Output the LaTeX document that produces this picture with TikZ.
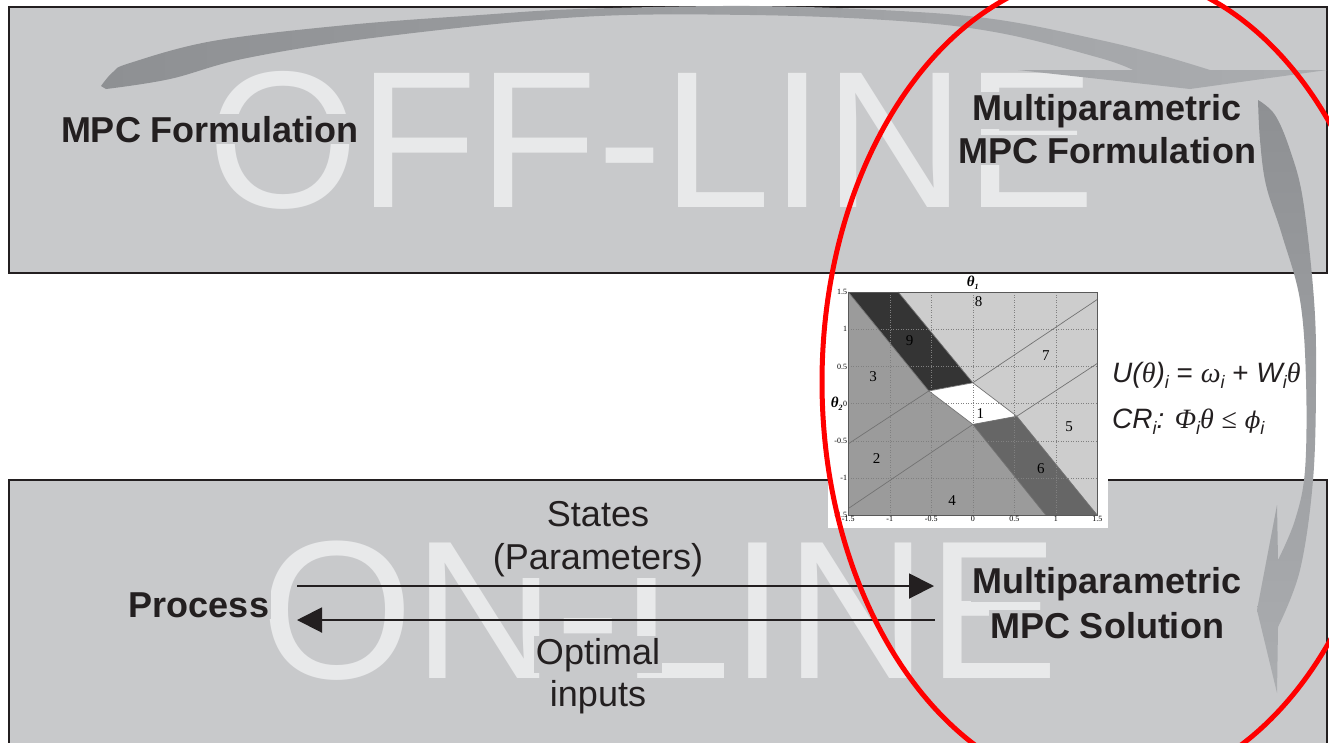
\documentclass[tikz,border=0pt]{standalone}
\usepackage{fontspec}
\setmainfont{Liberation Sans}
\newfontfamily\serifgr{Liberation Serif}
\newfontfamily\dvsgr{DejaVu Serif}
\usetikzlibrary{arrows.meta}

\definecolor{panel}{RGB}{200,201,203}
\definecolor{ink}{HTML}{231F20}
\definecolor{ghost}{HTML}{E8E9EA}
\definecolor{swA}{HTML}{8E9093}
\definecolor{swB}{HTML}{ABADB0}
\definecolor{rgLight}{HTML}{CDCDCD}
\definecolor{rgMid}{HTML}{9B9B9B}
\definecolor{rgDim}{HTML}{666666}
\definecolor{rgDark}{HTML}{343434}

% small italic subscript used in the formulas
\newcommand\eqsub[1]{\raisebox{-6pt}{\fontsize{18}{18}\selectfont\itshape #1}}
\newcommand\grk{\serifgr\itshape}

\tikzset{
  panelbox/.style={fill=panel, draw=ink, line width=2.5pt},
  ghostword/.style={text=ghost, inner sep=0pt, anchor=base west,
    font=\fontsize{197}{197}\selectfont},
  boldtxt/.style={text=ink, fill=panel, inner sep=1.5pt, anchor=base,
    font=\fontsize{36}{36}\selectfont\bfseries},
  plaintxt/.style={text=ink, fill=panel, inner sep=1.5pt, anchor=base,
    font=\fontsize{36}{36}\selectfont},
  flow/.style={draw=ink, line width=2pt, -{Triangle[length=25pt,width=25pt]}},
  ring/.style={draw=red, line width=5pt},
  gridline/.style={dotted, draw=gray, line width=0.5pt},
  bound/.style={draw=black!55, line width=0.7pt},
  tick/.style={font=\fontsize{8}{8}\selectfont\serifgr, inner sep=1pt},
  regnum/.style={font=\fontsize{15}{15}\selectfont\serifgr, inner sep=0pt},
  axisname/.style={font=\fontsize{15}{15}\selectfont\serifgr\bfseries\itshape, inner sep=0pt},
  eqtxt/.style={text=ink, inner sep=0pt, anchor=base west,
    font=\fontsize{28}{28}\selectfont},
}

\begin{document}
\begin{tikzpicture}[x=1pt, y=-1pt]
\useasboundingbox (0,0) rectangle (1329,742);
\clip (0,0) rectangle (1329,742);
\fill[white] (0,0) rectangle (1329,742);

% the two panels
\draw[panelbox] (9,7) rectangle (1327,273);
\draw[panelbox] (9,480) rectangle (1327,770);

% large background words
\node[ghostword] (offline) at (207,207) {\fontsize{195}{195}\selectfont OFF-LINE};
\node[ghostword] (online) at (260,678) {ON-LINE};

% swoosh from the MPC formulation to the multiparametric formulation
\shade[left color=swA, right color=swB]
  plot[smooth, tension=0.6] coordinates {(101,86) (113,72) (130,63) (213,41) (347,25) (480,15) (580,9) (750,6) (900,11) (1000,20) (1100,40) (1160,55) (1210,70)}
  -- (1327,70) -- (1190,89) -- (1018,70) -- (1133,70)
  -- plot[smooth, tension=0.6] coordinates {(1133,70) (1100,58) (1000,33) (900,21) (750,15) (580,17) (380,37) (247,58) (170,79) (106,89)}
  -- cycle;

% swoosh down the right side to the multiparametric solution
\shade[top color=swA, bottom color=swB]
  plot[smooth, tension=0.6] coordinates {(1258,100) (1260,140) (1266,185) (1282,235) (1300,300) (1306,380) (1305,470) (1295,520) (1278,560)}
  -- (1277,505) -- (1257,610) -- (1277,693) -- (1278,627)
  -- plot[smooth, tension=0.6] coordinates {(1278,627) (1300,570) (1313,480) (1316,380) (1314,300) (1303,200) (1290,150) (1275,115) (1258,100)}
  -- cycle;

% critical-region map of the explicit solution
\fill[white] (828,275) rectangle (1108,528);
\begin{scope}[shift={(972.8,403.6)}, x=83pt, y=74.4pt]
  \fill[rgLight] (-1.5,-1.5) rectangle (1.5,1.5);
  \fill[rgMid] (-1.5,1.5) -- (-0.53,0.17) -- (0,-0.28) -- (0.88,-1.5) -- (-1.5,-1.5) -- cycle;
  \fill[rgDark] (-1.5,1.5) -- (-0.9,1.5) -- (0,0.28) -- (-0.53,0.17) -- cycle;
  \fill[white] (-0.53,0.17) -- (0,0.28) -- (0.53,-0.17) -- (0,-0.28) -- cycle;
  \fill[rgDim] (0,-0.28) -- (0.53,-0.17) -- (1.5,-1.5) -- (0.88,-1.5) -- cycle;
  \foreach \v in {-1,-0.5,0,0.5,1} {
    \draw[gridline] (\v,-1.5) -- (\v,1.5);
    \draw[gridline] (-1.5,\v) -- (1.5,\v);
  }
  \draw[bound] (-1.5,-0.54) -- (-0.53,0.17) -- (0,0.28) -- (1.5,1.4);
  \draw[bound] (-1.5,-1.41) -- (0,-0.28) -- (0.53,-0.17) -- (1.5,0.54);
  \draw[bound] (-1.5,1.5) -- (-0.53,0.17);
  \draw[bound] (-0.9,1.5) -- (0,0.28) -- (0.53,-0.17) -- (1.5,-1.5);
  \draw[bound] (-0.53,0.17) -- (0,-0.28) -- (0.88,-1.5);
  \draw[black!65, line width=0.6pt] (-1.5,-1.5) rectangle (1.5,1.5);
  \foreach \v/\t in {-1.5/-1.5,-1/-1,-0.5/-0.5,0/0,0.5/0.5,1/1,1.5/1.5} {
    \node[tick, anchor=east] (ty\v) at (-1.5,\v) {\t};
    \node[tick, anchor=north] (tx\v) at (\v,-1.5) {\t};
  }
  \node[regnum] (r1) at (0.09,-0.13) {1};
  \node[regnum] (r2) at (-1.16,-0.74) {2};
  \node[regnum] (r3) at (-1.2,0.36) {3};
  \node[regnum] (r4) at (-0.25,-1.3) {4};
  \node[regnum] (r5) at (1.16,-0.31) {5};
  \node[regnum] (r6) at (0.82,-0.88) {6};
  \node[regnum] (r7) at (0.88,0.65) {7};
  \node[regnum] (r8) at (0.07,1.37) {8};
  \node[regnum] (r9) at (-0.76,0.85) {9};
  \node[axisname] (th1) at (0,1.63) {θ\raisebox{-3pt}{\fontsize{8}{8}\selectfont 1}};
  \node[axisname] (th2) at (-1.64,0) {θ\raisebox{-3pt}{\fontsize{8}{8}\selectfont 2}};
\end{scope}

% explicit control law and its region
\node[eqtxt] (law) at (1112,382)
  {{\itshape U(}{\grk θ}{\itshape )}\eqsub{i} = {\grk ω}\eqsub{i} + {\itshape W}\eqsub{i}{\grk θ}};
\node[eqtxt] (region) at (1112,428)
  {{\itshape CR}\eqsub{i}{\itshape :} {\grk Φ}\eqsub{i}{\grk θ} {\serifgr ≤} {\dvsgr\itshape\fontsize{23}{23}\selectfont ϕ}\eqsub{i}};

% labels
\node[boldtxt] (mpcf) at (210,142) {MPC Formulation};
\node[boldtxt] (mpf1) at (1107,120) {Multiparametric};
\node[boldtxt] (mpf2) at (1107,163) {MPC Formulation};
\node[boldtxt] (proc) at (199,617) {Process};
\node[boldtxt] (mps1) at (1107,593) {Multiparametric};
\node[boldtxt] (mps2) at (1107,638) {MPC Solution};
\node[plaintxt] (st1) at (598,526) {States};
\node[plaintxt] (st2) at (598,569) {(Parameters)};
\node[plaintxt] (op1) at (598,664) {Optimal};
\node[plaintxt] (op2) at (598,706) {inputs};

% on-line information flow
\coordinate (procout) at (297,586);
\coordinate (solin) at (934,586);
\coordinate (solout) at (935,620);
\coordinate (procin) at (297,620);
\draw[flow] (procout) -- (solin);
\draw[flow] (solout) -- (procin);

% highlight of the multiparametric part
\draw[ring] (1108,382) ellipse [x radius=286pt, y radius=410pt];
\end{tikzpicture}
\end{document}
